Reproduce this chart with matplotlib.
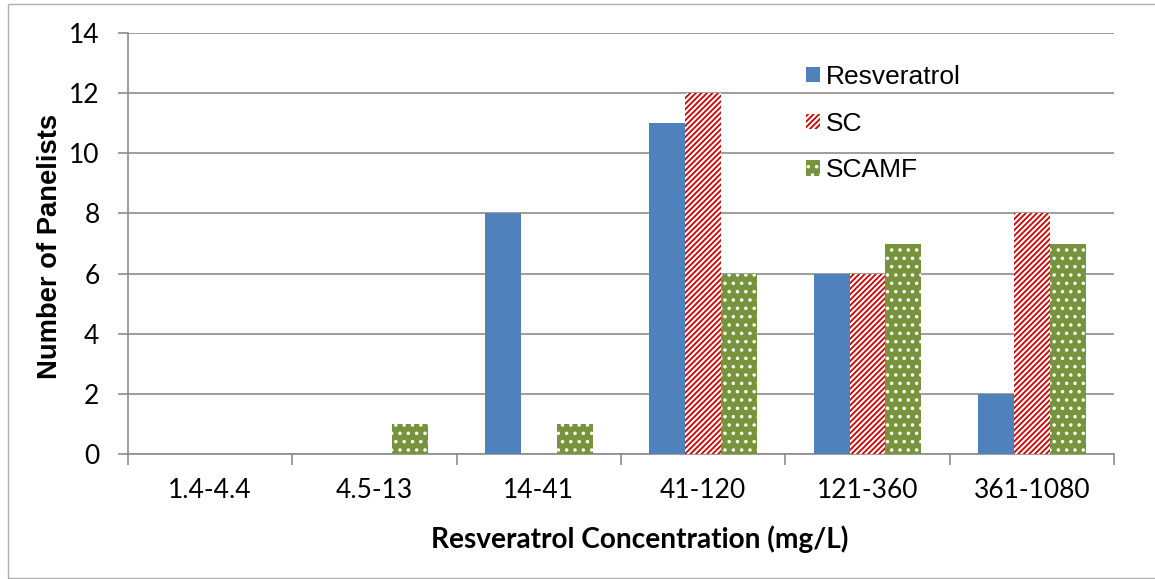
import matplotlib
matplotlib.use("Agg")
import matplotlib.pyplot as plt
import numpy as np
from matplotlib.patches import Rectangle, Patch

categories = ["1.4-4.4", "4.5-13", "14-41", "41-120", "121-360", "361-1080"]
resveratrol = [0, 0, 8, 11, 6, 2]
sc = [0, 0, 0, 12, 6, 8]
scamf = [0, 1, 1, 6, 7, 7]
series_names = ["Resveratrol", "SC", "SCAMF"]
y_ticks = [0, 2, 4, 6, 8, 10, 12, 14]

BLUE = "#4F81BD"
RED = "#D00000"
GREEN = "#77933C"
GRID = "#8C8C8C"
SC_HATCH = "//////"
SCAMF_HATCH = ".."

plt.rcParams["hatch.linewidth"] = 1.3

fig = plt.figure(figsize=(11.55, 5.79), dpi=100)
ax = fig.add_axes([128 / 1155, 1 - 454 / 579, (1114 - 128) / 1155, (454 - 33) / 579])

# outer chart frame
fig.patches.append(Rectangle((8 / 1155, 1.5 / 579), 1.2, 1 - 5 / 579,
                             transform=fig.transFigure, fill=False,
                             edgecolor="#B0B0B0", linewidth=1.0, zorder=0))

x = np.arange(len(categories))
w = 0.219
offsets = [-w, 0, w]

# Resveratrol: solid blue
ax.bar(x + offsets[0], resveratrol, w, color=BLUE, linewidth=0, zorder=3)
# SC: red diagonal stripes on white
ax.bar(x + offsets[1], sc, w, facecolor="white", edgecolor=RED, hatch=SC_HATCH,
       linewidth=0, zorder=3)
# SCAMF: green with white dots
ax.bar(x + offsets[2], scamf, w, facecolor=GREEN, linewidth=0, zorder=3)
ax.bar(x + offsets[2], scamf, w, facecolor="none", edgecolor="white", hatch=SCAMF_HATCH,
       linewidth=0, zorder=4)

ax.set_xlim(-0.5, len(categories) - 0.5)
ax.set_ylim(0, 14)
ax.set_yticks(y_ticks)
ax.yaxis.grid(True, color=GRID, linewidth=1.2)
ax.set_axisbelow(True)

ax.set_xticks(np.arange(-0.5, len(categories), 1.0))
ax.set_xticklabels([])
ax.set_xticks(x, minor=True)
ax.set_xticklabels(categories, minor=True, fontfamily="Lato", fontsize=19)
ax.tick_params(axis="x", which="major", length=8, width=1.2, color=GRID, direction="out")
ax.tick_params(axis="x", which="minor", length=0, pad=17.5)
ax.tick_params(axis="y", length=7, width=1.2, color=GRID, direction="out", pad=13.5,
               labelsize=19)
for lbl in ax.get_yticklabels():
    lbl.set_fontfamily("Lato")

for s in ["top", "right"]:
    ax.spines[s].set_visible(False)
for s in ["left", "bottom"]:
    ax.spines[s].set_color(GRID)
    ax.spines[s].set_linewidth(1.2)

ax.set_ylabel("Number of Panelists", fontfamily="Liberation Sans", fontweight="bold",
              fontsize=19.7, labelpad=4, y=0.492)
ax.set_xlabel("Resveratrol Concentration (mg/L)", fontfamily="Lato", fontweight="bold",
              fontsize=20.2, labelpad=16, x=0.519)

handles = [
    Patch(facecolor=BLUE, linewidth=0),
    Patch(facecolor="white", edgecolor=RED, hatch=SC_HATCH, linewidth=0),
    Patch(facecolor=GREEN, edgecolor="white", hatch=SCAMF_HATCH, linewidth=0),
]
leg = ax.legend(handles, series_names, loc="upper left",
                bbox_to_anchor=((806 - 128) / (1114 - 128), 1 - (65 - 33) / 421),
                frameon=False, prop={"family": "Liberation Sans", "size": 19},
                handlelength=0.53, handleheight=0.53, handletextpad=0.22,
                labelspacing=0.86, borderaxespad=0, borderpad=0)

fig.savefig("out.png", dpi=100, facecolor="white")
